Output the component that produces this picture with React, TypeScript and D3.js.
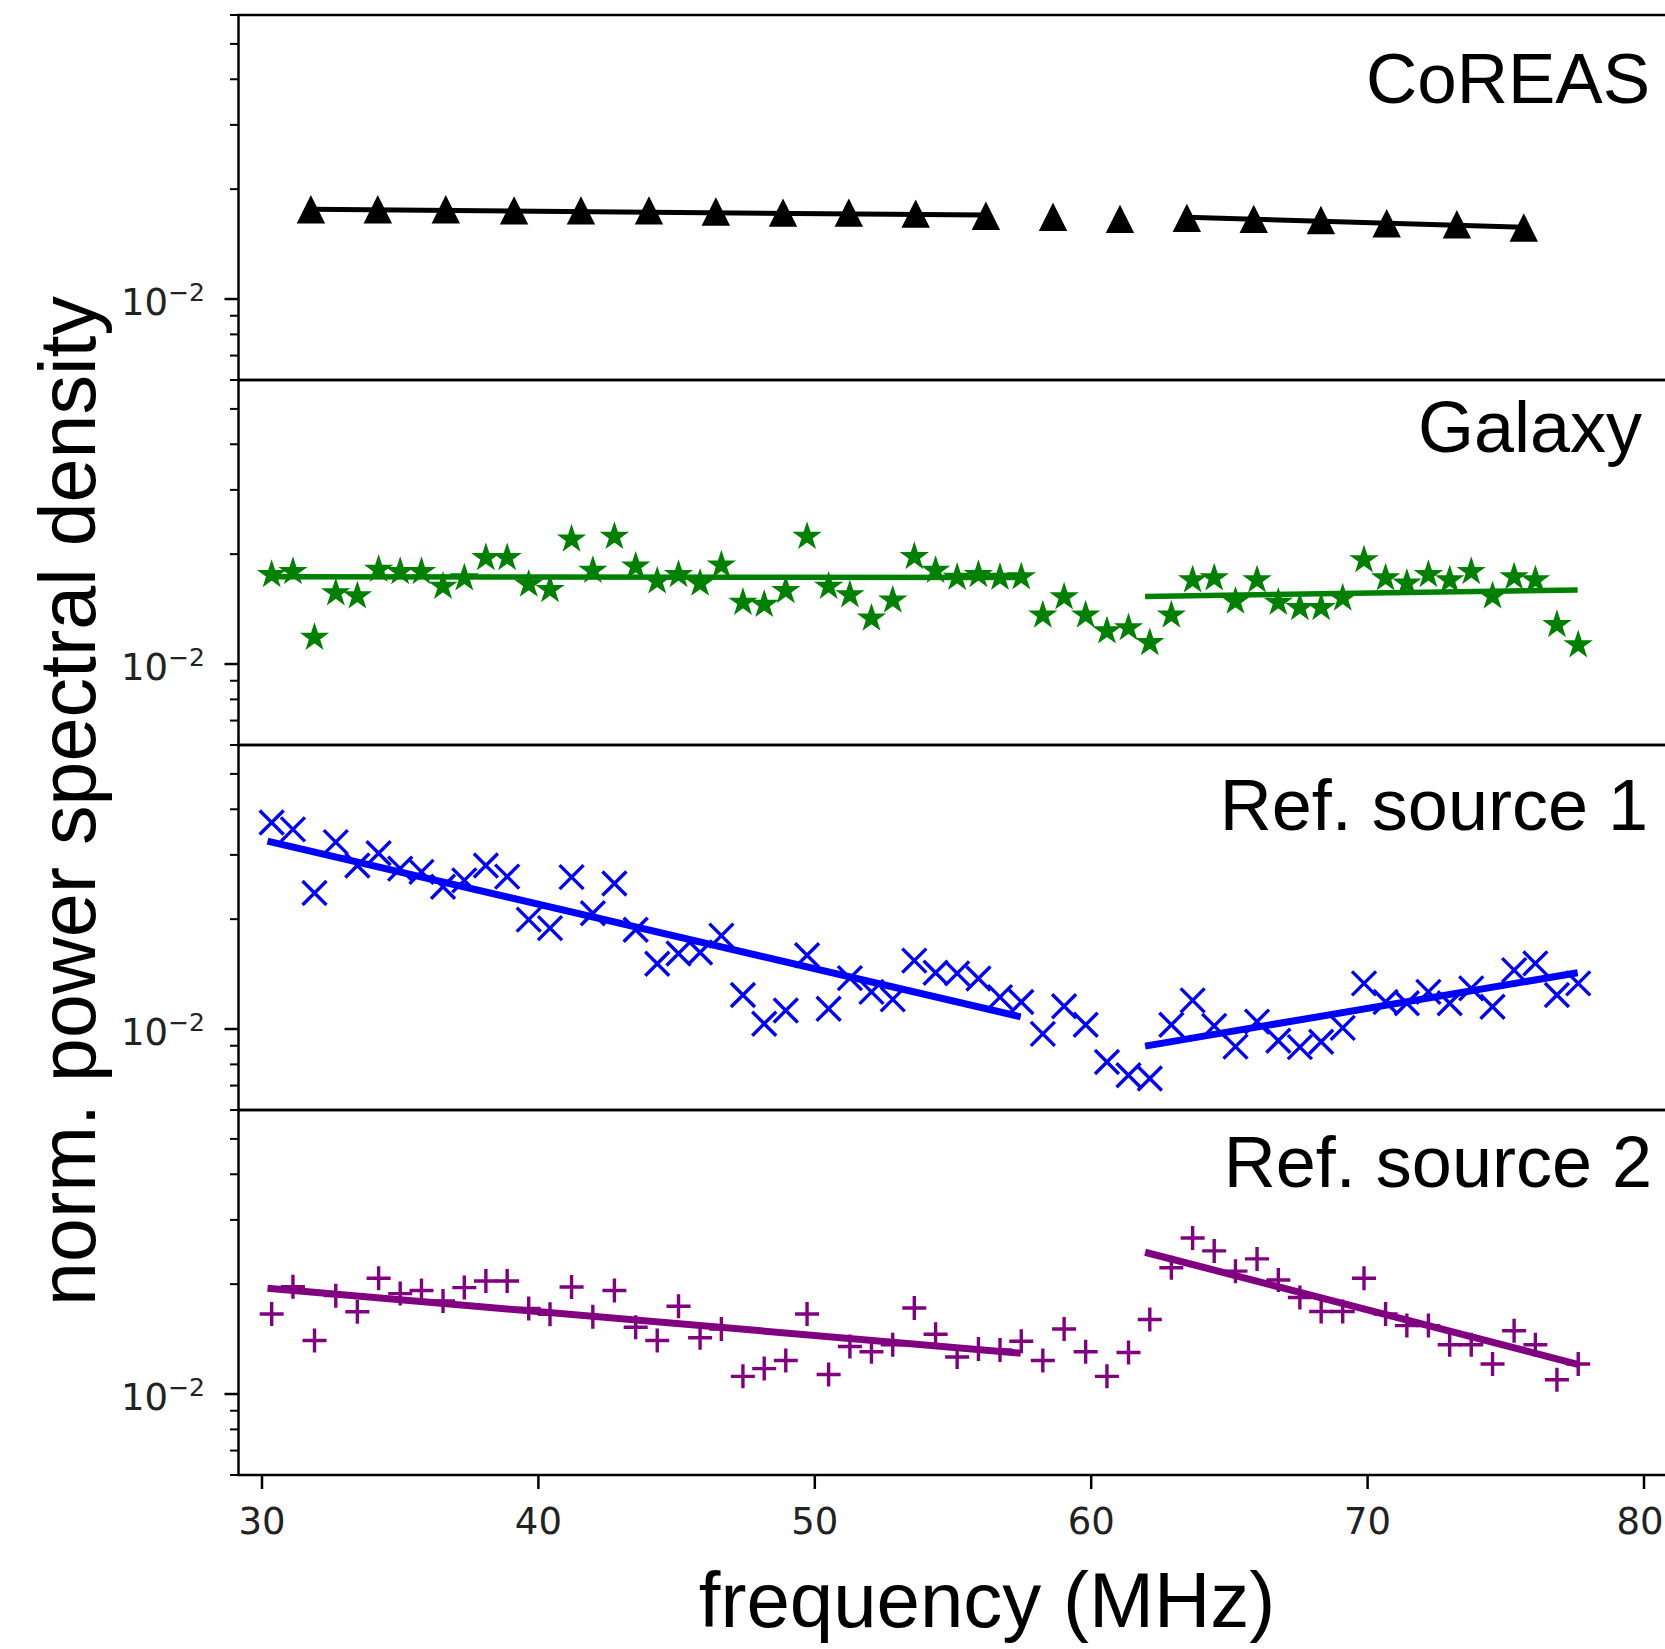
import React, { useEffect, useRef } from 'react';
import * as d3 from 'd3';

// CoREAS simulation
const coreasFreq = [31.77, 34.19, 36.65, 39.12, 41.54, 44.0, 46.42, 48.85, 51.23, 53.65, 56.19, 58.62, 61.04, 63.46, 65.88, 68.31, 70.69, 73.23, 75.65];
const coreasPsd = [0.01756, 0.01756, 0.01756, 0.01744, 0.01744, 0.01744, 0.01732, 0.0172, 0.0172, 0.01709, 0.01687, 0.01675, 0.01653, 0.01664, 0.01653, 0.01642, 0.01609, 0.01598, 0.01566];

// measured spectra share one frequency grid (MHz)
const gridFreq = [
  30.35, 31.12, 31.9, 32.67, 33.45, 34.22, 35.0, 35.77, 36.55, 37.32,
  38.1, 38.87, 39.65, 40.42, 41.2, 41.97, 42.75, 43.52, 44.3, 45.07,
  45.85, 46.62, 47.4, 48.17, 48.95, 49.72, 50.5, 51.27, 52.05, 52.82,
  53.6, 54.37, 55.15, 55.92, 56.7, 57.47, 58.25, 59.02, 59.8, 60.57,
  61.35, 62.12, 62.9, 63.67, 64.45, 65.22, 66.0, 66.77, 67.55, 68.32,
  69.1, 69.87, 70.65, 71.42, 72.2, 72.97, 73.75, 74.52, 75.3, 76.07,
  76.85, 77.62,
];

const galaxyPsd = [
  0.01756, 0.01791, 0.01182, 0.01566, 0.01535, 0.01815, 0.01791, 0.01791, 0.01631, 0.0172,
  0.01954, 0.01954, 0.01653, 0.01598, 0.02197, 0.01803, 0.02234, 0.01852, 0.01687, 0.01756,
  0.01664, 0.01865, 0.01475, 0.01455, 0.01588, 0.02234, 0.01631, 0.01546, 0.01334, 0.01495,
  0.01967, 0.01803, 0.01726, 0.01756, 0.01726, 0.01732, 0.01361, 0.01525, 0.01361, 0.01231,
  0.01256, 0.01143, 0.01361, 0.01698, 0.0172, 0.01485, 0.01698, 0.01475, 0.01426, 0.01426,
  0.01515, 0.01928, 0.0172, 0.01664, 0.01756, 0.01698, 0.01791, 0.01535, 0.01732, 0.01698,
  0.01281, 0.01128,
];

const ref1Psd = [
  0.03681, 0.03524, 0.02358, 0.03252, 0.02806, 0.0303, 0.0275, 0.02695, 0.02454, 0.02555,
  0.02806, 0.02616, 0.01994, 0.0189, 0.02607, 0.02076, 0.02504, 0.01871, 0.0151, 0.01611,
  0.0162, 0.01803, 0.01239, 0.01034, 0.01124, 0.01593, 0.01136, 0.01379, 0.01264, 0.01206,
  0.0154, 0.01426, 0.01421, 0.01375, 0.01223, 0.01186, 0.0097, 0.01155, 0.01027, 0.00812,
  0.00747, 0.00732, 0.01027, 0.01198, 0.0102, 0.00895, 0.01048, 0.00929, 0.00892, 0.00923,
  0.01007, 0.01334, 0.01186, 0.01176, 0.01264, 0.01176, 0.01292, 0.01151, 0.0145, 0.01513,
  0.01239, 0.01334,
];

const ref2Psd = [
  0.01657, 0.01967, 0.01402, 0.0186, 0.01681, 0.02076, 0.01884, 0.01921, 0.01799, 0.01957,
  0.02041, 0.02041, 0.01715, 0.01653, 0.01965, 0.01629, 0.01921, 0.01524, 0.01402, 0.0174,
  0.01426, 0.01507, 0.01118, 0.01174, 0.01236, 0.01657, 0.01131, 0.01349, 0.01306, 0.01365,
  0.0172, 0.01458, 0.01263, 0.01328, 0.0132, 0.01395, 0.01236, 0.01507, 0.01306, 0.01118,
  0.01299, 0.016, 0.02219, 0.02677, 0.02467, 0.02171, 0.02345, 0.02053, 0.01839, 0.01683,
  0.01683, 0.02076, 0.01657, 0.0154, 0.0154, 0.01365, 0.01365, 0.01209, 0.01491, 0.01365,
  0.01094, 0.01209,
];

// fitted segments: [freq, psd] end points
const coreasFits = [[[31.77, 0.01762], [56.19, 0.01698]], [[63.46, 0.01675], [75.65, 0.01572]]];
const galaxyFits = [[[30.2, 0.01735], [57.45, 0.01725]], [[61.95, 0.01531], [77.6, 0.01596]]];
const ref1Fits = [[[30.2, 0.03273], [57.45, 0.0108]], [[61.95, 0.00898], [77.6, 0.01426]]];
const ref2Fits = [[[30.2, 0.01948], [57.45, 0.01294]], [[61.95, 0.02446], [77.6, 0.01206]]];

const panelNames = ['CoREAS', 'Galaxy', 'Ref. source 1', 'Ref. source 2'];
const xTicks = [30, 40, 50, 60, 70, 80];
const yMajorTicks = [0.01];
const yMinorTicks = [0.006, 0.007, 0.008, 0.009, 0.02, 0.03, 0.04, 0.05, 0.06];

const W = 1665;
const H = 1649;
const left = 238.5;
const right = 1667.5;
const top0 = 15;
const panelH = 365;
// where the panel names sit (text end x, baseline offset from panel top)
const nameLayout = [[1650, 88], [1642, 72], [1648, 85], [1652, 77]];

const App = () => {
  const svgRef = useRef<SVGSVGElement>(null);

  useEffect(() => {
    const svg = d3.select(svgRef.current);
    svg.selectAll('*').remove();

    const x = d3.scaleLinear().domain([29.15, 80.85]).range([left, right]);

    const triangle = (s: number) => `M0,${-s / 2}L${s / 2},${s / 2}L${-s / 2},${s / 2}Z`;
    const cross = (a: number) => `M${-a},${-a}L${a},${a}M${-a},${a}L${a},${-a}`;
    const plus = (a: number) => `M${-a},0L${a},0M0,${-a}L0,${a}`;
    const star = d3.symbol().type(d3.symbolStar).size((13 * 13) / 0.8908130915)();

    const panels = [
      { freq: coreasFreq, psd: coreasPsd, fits: coreasFits, color: '#000000', marker: triangle(26), fill: true, lw: 5 },
      { freq: gridFreq, psd: galaxyPsd, fits: galaxyFits, color: '#008000', marker: star, fill: true, lw: 5.5 },
      { freq: gridFreq, psd: ref1Psd, fits: ref1Fits, color: '#0000ff', marker: cross(12), fill: false, lw: 7 },
      { freq: gridFreq, psd: ref2Psd, fits: ref2Fits, color: '#800080', marker: plus(12), fill: false, lw: 7 },
    ];

    panels.forEach((p, i) => {
      const top = top0 + i * panelH;
      const y = d3.scaleLog().domain([0.006, 0.06]).range([top + panelH, top]);
      const g = svg.append('g');

      // markers
      g.selectAll('path.pt')
        .data(p.freq.map((f, k) => [f, p.psd[k]]))
        .enter()
        .append('path')
        .attr('class', 'pt')
        .attr('d', p.marker)
        .attr('transform', (d) => `translate(${x(d[0])},${y(d[1])})`)
        .attr('fill', p.fill ? p.color : 'none')
        .attr('stroke', p.color)
        .attr('stroke-width', p.fill ? 1.5 : 3.4)
        .attr('stroke-linecap', 'butt');

      // fitted straight segments
      const line = d3
        .line<number[]>()
        .x((d) => x(d[0]))
        .y((d) => y(d[1]));
      p.fits.forEach((seg) => {
        g.append('path')
          .attr('d', line(seg))
          .attr('fill', 'none')
          .attr('stroke', p.color)
          .attr('stroke-width', p.lw)
          .attr('stroke-linecap', 'butt');
      });

      // frame
      g.append('rect')
        .attr('x', left)
        .attr('y', top)
        .attr('width', right - left)
        .attr('height', panelH)
        .attr('fill', 'none')
        .attr('stroke', '#000')
        .attr('stroke-width', 2.5);

      // y ticks
      g.selectAll('line.minor')
        .data(yMinorTicks)
        .enter()
        .append('line')
        .attr('x1', left - 8.5)
        .attr('x2', left)
        .attr('y1', (d) => y(d))
        .attr('y2', (d) => y(d))
        .attr('stroke', '#000')
        .attr('stroke-width', 2);
      yMajorTicks.forEach((t) => {
        g.append('line')
          .attr('x1', left - 14)
          .attr('x2', left)
          .attr('y1', y(t))
          .attr('y2', y(t))
          .attr('stroke', '#000')
          .attr('stroke-width', 2.5);
        const lab = g
          .append('text')
          .attr('x', 205)
          .attr('y', y(t) + 15.5)
          .attr('text-anchor', 'end')
          .attr('font-family', 'DejaVu Sans')
          .attr('font-size', 37)
          .attr('fill', '#222');
        lab.append('tspan').text('10');
        lab.append('tspan').attr('font-size', 25).attr('dy', -14).text('\u22122');
      });

      g.append('text')
        .attr('x', nameLayout[i][0])
        .attr('y', top + nameLayout[i][1])
        .attr('text-anchor', 'end')
        .attr('font-family', 'Liberation Sans, Arial, Helvetica, sans-serif')
        .attr('font-size', i === 0 ? 71 : 72)
        .attr('fill', '#000')
        .text(panelNames[i]);
    });

    const bottom = top0 + 4 * panelH;
    const xg = svg.append('g');
    xTicks.forEach((t) => {
      xg.append('line')
        .attr('x1', x(t))
        .attr('x2', x(t))
        .attr('y1', bottom)
        .attr('y2', bottom + 14)
        .attr('stroke', '#000')
        .attr('stroke-width', 2.5);
      // last label would run past the page edge, keep it inside
      xg.append('text')
        .attr('x', Math.min(x(t), W - 25))
        .attr('y', 1534)
        .attr('text-anchor', 'middle')
        .attr('font-family', 'DejaVu Sans')
        .attr('font-size', 37)
        .attr('fill', '#222')
        .text(String(t));
    });

    svg.append('text')
      .attr('x', 987)
      .attr('y', 1627)
      .attr('text-anchor', 'middle')
      .attr('font-family', 'Liberation Sans, Arial, Helvetica, sans-serif')
      .attr('font-size', 78)
      .attr('fill', '#000')
      .text('frequency (MHz)');

    svg.append('text')
      .attr('transform', 'translate(95,801) rotate(-90)')
      .attr('text-anchor', 'middle')
      .attr('font-family', 'Liberation Sans, Arial, Helvetica, sans-serif')
      .attr('font-size', 79)
      .attr('fill', '#000')
      .text('norm. power spectral density');
  }, []);

  return (
    <div style={{ position: 'absolute', left: 0, top: 0 }}>
      <svg ref={svgRef} width={W} height={H} style={{ display: 'block', background: '#fff' }} />
    </div>
  );
};

export default App;
